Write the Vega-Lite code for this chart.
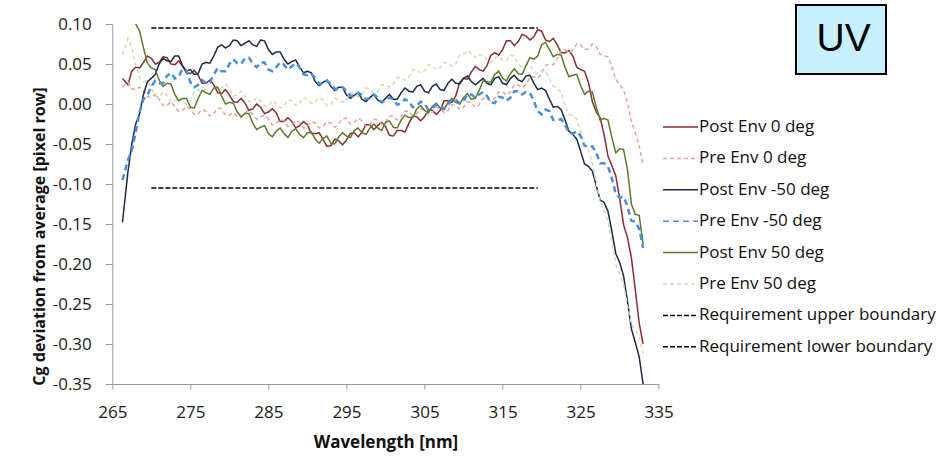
{
  "$schema": "https://vega.github.io/schema/vega-lite/v6.json",
  "width": 546.4,
  "height": 360,
  "autosize": {"type": "none"},
  "padding": {"left": 112.3, "top": 24, "right": 287.3, "bottom": 81},
  "background": "white",
  "config": {"view": {"stroke": null}, "font": "Open Sans"},
  "datasets": {
    "names": [
      {"key": "a", "series": "Post Env 0 deg"},
      {"key": "b", "series": "Pre Env  0 deg"},
      {"key": "c", "series": "Post Env -50 deg"},
      {"key": "d", "series": "Pre Env -50 deg"},
      {"key": "e", "series": "Post Env 50 deg"},
      {"key": "f", "series": "Pre Env 50 deg"}
    ],
    "spectra": [
      {"x": 266.3, "a": 0.032, "b": 0.021, "c": -0.148, "d": -0.095, "e": null, "f": 0.062},
      {"x": 267, "a": 0.024, "b": 0.027, "c": -0.085, "d": -0.07, "e": null, "f": 0.082},
      {"x": 267.5, "a": 0.041, "b": 0.019, "c": -0.05, "d": -0.058, "e": null, "f": 0.071},
      {"x": 268, "a": 0.046, "b": 0.018, "c": -0.025, "d": -0.035, "e": 0.1, "f": 0.048},
      {"x": 268.5, "a": 0.045, "b": 0.021, "c": -0.012, "d": -0.01, "e": 0.091, "f": 0.033},
      {"x": 269, "a": 0.052, "b": 0.017, "c": 0.012, "d": 0.006, "e": 0.07, "f": 0.028},
      {"x": 269.5, "a": 0.06, "b": 0.009, "c": 0.028, "d": 0.011, "e": 0.051, "f": 0.029},
      {"x": 270, "a": 0.057, "b": 0.008, "c": 0.032, "d": 0.022, "e": 0.045, "f": 0.02},
      {"x": 270.5, "a": 0.05, "b": 0.012, "c": 0.037, "d": 0.029, "e": 0.043, "f": 0.01},
      {"x": 271, "a": 0.052, "b": 0.006, "c": 0.05, "d": 0.026, "e": 0.03, "f": 0.008},
      {"x": 271.5, "a": 0.059, "b": -0.002, "c": 0.057, "d": 0.026, "e": 0.022, "f": 0.015},
      {"x": 272, "a": 0.058, "b": -0.002, "c": 0.054, "d": 0.035, "e": 0.026, "f": 0.011},
      {"x": 272.5, "a": 0.05, "b": 0.003, "c": 0.053, "d": 0.039, "e": 0.025, "f": 0.003},
      {"x": 273, "a": 0.049, "b": -0.003, "c": 0.06, "d": 0.032, "e": 0.012, "f": 0.003},
      {"x": 273.5, "a": 0.054, "b": -0.009, "c": 0.06, "d": 0.034, "e": 0.004, "f": 0.009},
      {"x": 274, "a": 0.047, "b": -0.008, "c": 0.048, "d": 0.044, "e": 0.007, "f": 0.004},
      {"x": 274.5, "a": 0.039, "b": -0.003, "c": 0.041, "d": 0.042, "e": 0.007, "f": 0.0},
      {"x": 275, "a": 0.038, "b": -0.006, "c": 0.043, "d": 0.027, "e": -0.004, "f": 0.004},
      {"x": 275.5, "a": 0.042, "b": -0.013, "c": 0.037, "d": 0.021, "e": -0.005, "f": 0.016},
      {"x": 276, "a": 0.036, "b": -0.012, "c": 0.038, "d": 0.024, "e": 0.007, "f": 0.018},
      {"x": 276.5, "a": 0.026, "b": -0.007, "c": 0.05, "d": 0.03, "e": 0.017, "f": 0.015},
      {"x": 277, "a": 0.026, "b": -0.009, "c": 0.052, "d": 0.026, "e": 0.014, "f": 0.02},
      {"x": 277.5, "a": 0.03, "b": -0.015, "c": 0.051, "d": 0.027, "e": 0.012, "f": 0.029},
      {"x": 278, "a": 0.024, "b": -0.012, "c": 0.06, "d": 0.037, "e": 0.02, "f": 0.028},
      {"x": 278.5, "a": 0.014, "b": -0.005, "c": 0.071, "d": 0.045, "e": 0.021, "f": 0.019},
      {"x": 279, "a": 0.013, "b": -0.006, "c": 0.074, "d": 0.041, "e": 0.01, "f": 0.02},
      {"x": 279.5, "a": 0.018, "b": -0.014, "c": 0.07, "d": 0.041, "e": 0.0, "f": 0.025},
      {"x": 280, "a": 0.011, "b": -0.014, "c": 0.073, "d": 0.05, "e": 0.002, "f": 0.019},
      {"x": 280.5, "a": 0.003, "b": -0.011, "c": 0.08, "d": 0.056, "e": 0.001, "f": 0.01},
      {"x": 281, "a": 0.002, "b": -0.015, "c": 0.079, "d": 0.051, "e": -0.01, "f": 0.011},
      {"x": 281.5, "a": 0.007, "b": -0.017, "c": 0.073, "d": 0.05, "e": -0.016, "f": 0.016},
      {"x": 282, "a": 0.001, "b": -0.011, "c": 0.076, "d": 0.057, "e": -0.012, "f": 0.01},
      {"x": 282.5, "a": -0.008, "b": -0.008, "c": 0.079, "d": 0.058, "e": -0.012, "f": 0.003},
      {"x": 283, "a": -0.006, "b": -0.013, "c": 0.074, "d": 0.05, "e": -0.024, "f": 0.003},
      {"x": 283.5, "a": 0.0, "b": -0.019, "c": 0.072, "d": 0.046, "e": -0.032, "f": 0.008},
      {"x": 284, "a": -0.004, "b": -0.016, "c": 0.08, "d": 0.052, "e": -0.029, "f": 0.004},
      {"x": 284.5, "a": -0.012, "b": -0.014, "c": 0.079, "d": 0.052, "e": -0.027, "f": -0.003},
      {"x": 285, "a": -0.01, "b": -0.019, "c": 0.068, "d": 0.043, "e": -0.037, "f": -0.002},
      {"x": 285.5, "a": -0.006, "b": -0.026, "c": 0.062, "d": 0.041, "e": -0.041, "f": 0.004},
      {"x": 286, "a": -0.011, "b": -0.024, "c": 0.065, "d": 0.046, "e": -0.034, "f": 0.001},
      {"x": 286.5, "a": -0.022, "b": -0.019, "c": 0.065, "d": 0.052, "e": -0.03, "f": -0.005},
      {"x": 287, "a": -0.022, "b": -0.021, "c": 0.056, "d": 0.049, "e": -0.037, "f": -0.002},
      {"x": 287.5, "a": -0.017, "b": -0.028, "c": 0.05, "d": 0.043, "e": -0.042, "f": 0.005},
      {"x": 288, "a": -0.022, "b": -0.026, "c": 0.053, "d": 0.047, "e": -0.034, "f": 0.004},
      {"x": 288.5, "a": -0.03, "b": -0.021, "c": 0.055, "d": 0.051, "e": -0.031, "f": -0.002},
      {"x": 289, "a": -0.027, "b": -0.023, "c": 0.046, "d": 0.046, "e": -0.038, "f": 0.001},
      {"x": 289.5, "a": -0.022, "b": -0.03, "c": 0.039, "d": 0.037, "e": -0.042, "f": 0.008},
      {"x": 290, "a": -0.026, "b": -0.028, "c": 0.041, "d": 0.036, "e": -0.036, "f": 0.006},
      {"x": 290.5, "a": -0.037, "b": -0.022, "c": 0.039, "d": 0.038, "e": -0.035, "f": 0.001},
      {"x": 291, "a": -0.037, "b": -0.024, "c": 0.028, "d": 0.032, "e": -0.044, "f": 0.003},
      {"x": 291.5, "a": -0.036, "b": -0.03, "c": 0.023, "d": 0.025, "e": -0.049, "f": 0.008},
      {"x": 292, "a": -0.044, "b": -0.028, "c": 0.027, "d": 0.026, "e": -0.043, "f": 0.005},
      {"x": 292.5, "a": -0.053, "b": -0.022, "c": 0.03, "d": 0.029, "e": -0.04, "f": -0.002},
      {"x": 293, "a": -0.052, "b": -0.024, "c": 0.022, "d": 0.025, "e": -0.049, "f": -0.001},
      {"x": 293.5, "a": -0.044, "b": -0.029, "c": 0.017, "d": 0.019, "e": -0.05, "f": 0.007},
      {"x": 294, "a": -0.046, "b": -0.025, "c": 0.021, "d": 0.018, "e": -0.041, "f": 0.006},
      {"x": 294.5, "a": -0.051, "b": -0.018, "c": 0.021, "d": 0.021, "e": -0.036, "f": 0.002},
      {"x": 295, "a": -0.045, "b": -0.018, "c": 0.011, "d": 0.017, "e": -0.04, "f": 0.006},
      {"x": 295.5, "a": -0.037, "b": -0.025, "c": 0.007, "d": 0.01, "e": -0.042, "f": 0.014},
      {"x": 296, "a": -0.036, "b": -0.023, "c": 0.011, "d": 0.011, "e": -0.033, "f": 0.013},
      {"x": 296.5, "a": -0.041, "b": -0.018, "c": 0.014, "d": 0.014, "e": -0.03, "f": 0.009},
      {"x": 297, "a": -0.035, "b": -0.021, "c": 0.006, "d": 0.011, "e": -0.036, "f": 0.012},
      {"x": 297.5, "a": -0.026, "b": -0.028, "c": 0.003, "d": 0.006, "e": -0.038, "f": 0.02},
      {"x": 298, "a": -0.026, "b": -0.026, "c": 0.008, "d": 0.007, "e": -0.03, "f": 0.019},
      {"x": 298.5, "a": -0.032, "b": -0.019, "c": 0.012, "d": 0.012, "e": -0.025, "f": 0.014},
      {"x": 299, "a": -0.027, "b": -0.02, "c": 0.005, "d": 0.008, "e": -0.03, "f": 0.016},
      {"x": 299.5, "a": -0.023, "b": -0.025, "c": 0.002, "d": 0.002, "e": -0.033, "f": 0.024},
      {"x": 300, "a": -0.028, "b": -0.022, "c": 0.007, "d": 0.004, "e": -0.023, "f": 0.024},
      {"x": 300.5, "a": -0.039, "b": -0.015, "c": 0.012, "d": 0.008, "e": -0.021, "f": 0.021},
      {"x": 301, "a": -0.04, "b": -0.015, "c": 0.006, "d": 0.006, "e": -0.029, "f": 0.025},
      {"x": 301.5, "a": -0.033, "b": -0.02, "c": 0.006, "d": -0.001, "e": -0.03, "f": 0.033},
      {"x": 302, "a": -0.033, "b": -0.016, "c": 0.014, "d": 0.001, "e": -0.02, "f": 0.033},
      {"x": 302.5, "a": -0.035, "b": -0.009, "c": 0.02, "d": 0.006, "e": -0.014, "f": 0.03},
      {"x": 303, "a": -0.024, "b": -0.009, "c": 0.016, "d": 0.003, "e": -0.017, "f": 0.034},
      {"x": 303.5, "a": -0.015, "b": -0.015, "c": 0.015, "d": -0.004, "e": -0.017, "f": 0.043},
      {"x": 304, "a": -0.016, "b": -0.012, "c": 0.022, "d": -0.002, "e": -0.006, "f": 0.043},
      {"x": 304.5, "a": -0.021, "b": -0.006, "c": 0.024, "d": 0.003, "e": -0.002, "f": 0.039},
      {"x": 305, "a": -0.016, "b": -0.007, "c": 0.016, "d": 0.0, "e": -0.008, "f": 0.042},
      {"x": 305.5, "a": -0.007, "b": -0.013, "c": 0.014, "d": -0.007, "e": -0.011, "f": 0.049},
      {"x": 306, "a": -0.008, "b": -0.01, "c": 0.022, "d": -0.005, "e": -0.003, "f": 0.048},
      {"x": 306.5, "a": -0.013, "b": -0.004, "c": 0.025, "d": -0.001, "e": 0.001, "f": 0.043},
      {"x": 307, "a": -0.008, "b": -0.005, "c": 0.018, "d": -0.002, "e": -0.005, "f": 0.045},
      {"x": 307.5, "a": 0.004, "b": -0.011, "c": 0.017, "d": -0.006, "e": -0.007, "f": 0.052},
      {"x": 308, "a": 0.004, "b": -0.008, "c": 0.026, "d": -0.002, "e": 0.002, "f": 0.051},
      {"x": 308.5, "a": 0.002, "b": -0.001, "c": 0.031, "d": 0.006, "e": 0.007, "f": 0.047},
      {"x": 309, "a": 0.01, "b": -0.002, "c": 0.026, "d": 0.005, "e": 0.002, "f": 0.05},
      {"x": 309.5, "a": 0.027, "b": -0.007, "c": 0.025, "d": 0.001, "e": 0.0, "f": 0.061},
      {"x": 310, "a": 0.032, "b": -0.004, "c": 0.032, "d": 0.004, "e": 0.008, "f": 0.062},
      {"x": 310.5, "a": 0.031, "b": 0.003, "c": 0.035, "d": 0.012, "e": 0.013, "f": 0.067},
      {"x": 311, "a": 0.04, "b": 0.002, "c": 0.028, "d": 0.012, "e": 0.006, "f": 0.063},
      {"x": 311.5, "a": 0.047, "b": -0.004, "c": 0.024, "d": 0.008, "e": 0.007, "f": 0.058},
      {"x": 312, "a": 0.043, "b": -0.001, "c": 0.028, "d": 0.012, "e": 0.017, "f": 0.061},
      {"x": 312.5, "a": 0.041, "b": 0.007, "c": 0.032, "d": 0.015, "e": 0.029, "f": 0.062},
      {"x": 313, "a": 0.048, "b": 0.007, "c": 0.026, "d": 0.01, "e": 0.028, "f": 0.055},
      {"x": 313.5, "a": 0.061, "b": 0.003, "c": 0.024, "d": 0.002, "e": 0.027, "f": 0.052},
      {"x": 314, "a": 0.064, "b": 0.007, "c": 0.032, "d": 0.001, "e": 0.037, "f": 0.057},
      {"x": 314.5, "a": 0.061, "b": 0.015, "c": 0.034, "d": 0.009, "e": 0.041, "f": 0.06},
      {"x": 315, "a": 0.068, "b": 0.015, "c": 0.026, "d": 0.008, "e": 0.032, "f": 0.055},
      {"x": 315.5, "a": 0.079, "b": 0.011, "c": 0.024, "d": 0.004, "e": 0.029, "f": 0.054},
      {"x": 316, "a": 0.079, "b": 0.015, "c": 0.032, "d": 0.008, "e": 0.038, "f": 0.061},
      {"x": 316.5, "a": 0.073, "b": 0.024, "c": 0.036, "d": 0.016, "e": 0.044, "f": 0.06},
      {"x": 317, "a": 0.078, "b": 0.024, "c": 0.03, "d": 0.016, "e": 0.038, "f": 0.05},
      {"x": 317.5, "a": 0.087, "b": 0.02, "c": 0.028, "d": 0.012, "e": 0.037, "f": 0.046},
      {"x": 318, "a": 0.085, "b": 0.024, "c": 0.035, "d": 0.015, "e": 0.048, "f": 0.049},
      {"x": 318.5, "a": 0.08, "b": 0.033, "c": 0.036, "d": 0.014, "e": 0.058, "f": 0.049},
      {"x": 319, "a": 0.084, "b": 0.034, "c": 0.026, "d": 0.004, "e": 0.056, "f": 0.041},
      {"x": 319.5, "a": 0.093, "b": 0.032, "c": 0.018, "d": -0.009, "e": 0.06, "f": 0.038},
      {"x": 320, "a": 0.091, "b": 0.038, "c": 0.02, "d": -0.013, "e": 0.074, "f": 0.042},
      {"x": 320.5, "a": 0.08, "b": 0.048, "c": 0.017, "d": -0.007, "e": 0.077, "f": 0.041},
      {"x": 321, "a": 0.078, "b": 0.05, "c": 0.006, "d": -0.009, "e": 0.068, "f": 0.031},
      {"x": 321.5, "a": 0.082, "b": 0.049, "c": -0.004, "d": -0.02, "e": 0.059, "f": 0.022},
      {"x": 322, "a": 0.074, "b": 0.056, "c": -0.003, "d": -0.02, "e": 0.062, "f": 0.02},
      {"x": 322.5, "a": 0.064, "b": 0.066, "c": -0.007, "d": -0.019, "e": 0.061, "f": 0.014},
      {"x": 323, "a": 0.064, "b": 0.068, "c": -0.02, "d": -0.026, "e": 0.046, "f": -0.002},
      {"x": 323.5, "a": 0.067, "b": 0.064, "c": -0.034, "d": -0.036, "e": 0.034, "f": -0.013},
      {"x": 324, "a": 0.06, "b": 0.068, "c": -0.038, "d": -0.037, "e": 0.036, "f": -0.014},
      {"x": 324.5, "a": 0.046, "b": 0.075, "c": -0.044, "d": -0.034, "e": 0.037, "f": -0.019},
      {"x": 325, "a": 0.043, "b": 0.074, "c": -0.059, "d": -0.04, "e": 0.023, "f": -0.034},
      {"x": 325.5, "a": 0.041, "b": 0.068, "c": -0.075, "d": -0.052, "e": 0.012, "f": -0.052},
      {"x": 326, "a": 0.027, "b": 0.069, "c": -0.078, "d": -0.054, "e": 0.016, "f": -0.058},
      {"x": 326.5, "a": 0.003, "b": 0.075, "c": -0.084, "d": -0.053, "e": 0.015, "f": -0.073},
      {"x": 327, "a": -0.01, "b": 0.072, "c": -0.102, "d": -0.061, "e": -0.004, "f": -0.099},
      {"x": 327.5, "a": -0.017, "b": 0.062, "c": -0.12, "d": -0.074, "e": -0.02, "f": -0.122},
      {"x": 328, "a": -0.038, "b": 0.06, "c": -0.123, "d": -0.074, "e": -0.018, "f": -0.133},
      {"x": 328.5, "a": -0.065, "b": 0.059, "c": -0.134, "d": -0.078, "e": -0.02, "f": -0.147},
      {"x": 329, "a": -0.077, "b": 0.047, "c": -0.159, "d": -0.093, "e": -0.042, "f": -0.172},
      {"x": 329.5, "a": -0.09, "b": 0.031, "c": -0.187, "d": -0.112, "e": -0.061, "f": -0.2},
      {"x": 330, "a": -0.118, "b": 0.024, "c": -0.198, "d": -0.117, "e": -0.056, "f": -0.213},
      {"x": 330.5, "a": -0.151, "b": 0.018, "c": -0.215, "d": -0.116, "e": -0.057, "f": -0.226},
      {"x": 331, "a": -0.167, "b": 0.002, "c": -0.247, "d": -0.128, "e": -0.082, "f": -0.252},
      {"x": 331.5, "a": -0.192, "b": -0.022, "c": -0.281, "d": -0.146, "e": -0.125, "f": -0.275},
      {"x": 332, "a": -0.232, "b": -0.036, "c": -0.298, "d": -0.147, "e": -0.138, "f": -0.283},
      {"x": 332.5, "a": -0.274, "b": -0.052, "c": -0.316, "d": -0.156, "e": -0.139, "f": -0.291},
      {"x": 333, "a": -0.3, "b": -0.077, "c": -0.35, "d": -0.18, "e": -0.175, "f": -0.312}
    ],
    "limits": [
      {"series": "Requirement upper boundary", "band": "UV", "x": 270, "y": 0.095},
      {"series": "Requirement upper boundary", "band": "UV", "x": 319.5, "y": 0.095},
      {"series": "Requirement lower boundary", "band": "UV", "x": 270, "y": -0.105},
      {"series": "Requirement lower boundary", "band": "UV", "x": 319.5, "y": -0.105}
    ]
  },
  "encoding": {
    "x": {
      "field": "x", "type": "quantitative",
      "scale": {"domain": [265, 335], "nice": false, "zero": false},
      "axis": {
        "title": "Wavelength [nm]", "values": [265, 275, 285, 295, 305, 315, 325, 335],
        "format": "d", "grid": false, "labelFlush": false,
        "labelFont": "Open Sans", "labelFontSize": 17, "labelColor": "#1a1a1a",
        "labelBaseline": "alphabetic", "labelPadding": 28,
        "tickSize": 5, "tickColor": "#9a9a9a", "domainColor": "#9a9a9a",
        "titleFont": "Open Sans", "titleFontSize": 17, "titleFontWeight": "bold", "titleColor": "#111111",
        "titleBaseline": "alphabetic", "titleY": 63
      }
    },
    "y": {
      "field": "y", "type": "quantitative",
      "scale": {"domain": [-0.35, 0.1], "nice": false, "zero": false},
      "axis": {
        "title": "Cg deviation from average [pixel row]",
        "values": [-0.35, -0.3, -0.25, -0.2, -0.15, -0.1, -0.05, 0, 0.05, 0.1],
        "labelExpr": "datum.value < 0 ? '-' + format(-datum.value, '.2f') : format(datum.value, '.2f')",
        "grid": false, "labelFlush": false,
        "labelFont": "Open Sans", "labelFontSize": 17, "labelColor": "#1a1a1a",
        "labelPadding": 14, "tickSize": 7, "tickColor": "#9a9a9a", "domainColor": "#9a9a9a",
        "titleFont": "Open Sans", "titleFontSize": 16, "titleFontWeight": "bold", "titleColor": "#111111",
        "titleAngle": -90, "titleBaseline": "middle", "titleX": -73, "titleY": 212
      }
    },
    "color": {
      "field": "series", "type": "nominal",
      "scale": {
        "domain": ["Post Env 0 deg", "Pre Env  0 deg", "Post Env -50 deg", "Pre Env -50 deg", "Post Env 50 deg", "Pre Env 50 deg", "Requirement upper boundary", "Requirement lower boundary"],
        "range": ["#8b2c30", "#e8a0a0", "#1a2a48", "#4a8fde", "#5b7b2c", "#cddfae", "#000000", "#000000"]
      },
      "legend": {
        "orient": "none", "legendX": 549.7, "legendY": 84.5, "title": null, "padding": 0,
        "symbolType": "stroke", "symbolSize": 1225, "symbolStrokeWidth": 1.5,
        "labelFont": "Open Sans", "labelFontSize": 17, "labelColor": "#111111", "labelOffset": 0,
        "rowPadding": 4.4, "labelLimit": 300
      }
    },
    "strokeDash": {
      "field": "series", "type": "nominal",
      "scale": {
        "domain": ["Post Env 0 deg", "Pre Env  0 deg", "Post Env -50 deg", "Pre Env -50 deg", "Post Env 50 deg", "Pre Env 50 deg", "Requirement upper boundary", "Requirement lower boundary"],
        "range": [[1, 0], [4, 3], [1, 0], [6, 4], [1, 0], [4, 3], [5, 2], [5, 2]]
      },
      "legend": {
        "orient": "none", "legendX": 549.7, "legendY": 84.5, "title": null, "padding": 0,
        "symbolType": "stroke", "symbolSize": 1225, "symbolStrokeWidth": 1.5,
        "labelFont": "Open Sans", "labelFontSize": 17, "labelColor": "#111111", "labelOffset": 0,
        "rowPadding": 4.4, "labelLimit": 300
      }
    }
  },
  "layer": [
    {
      "data": {"name": "spectra"},
      "transform": [
        {"fold": ["a", "b", "c", "e", "f"], "as": ["key", "y"]},
        {"lookup": "key", "from": {"data": {"name": "names"}, "key": "key", "fields": ["series"]}}
      ],
      "mark": {"type": "line", "strokeWidth": 1.5, "invalid": "filter", "clip": true}
    },
    {
      "data": {"name": "spectra"},
      "transform": [
        {"fold": ["d"], "as": ["key", "y"]},
        {"lookup": "key", "from": {"data": {"name": "names"}, "key": "key", "fields": ["series"]}}
      ],
      "mark": {"type": "line", "strokeWidth": 2.5, "invalid": "filter", "clip": true}
    },
    {
      "data": {"name": "limits"},
      "mark": {"type": "line", "strokeWidth": 1.5, "clip": true},
      "encoding": {
        "opacity": {
          "field": "band", "type": "ordinal",
          "scale": {"range": [1, 1]},
          "legend": {
            "orient": "none", "legendX": 683.7, "legendY": -19, "title": null,
            "symbolOpacity": 0, "symbolSize": 0, "symbolType": "circle",
            "symbolStrokeColor": "transparent", "symbolFillColor": "transparent", "symbolStrokeWidth": 0,
            "labelFont": "Liberation Sans", "labelFontSize": 39, "labelColor": "#000000",
            "labelOffset": -33, "padding": 14.5, "fillColor": "#c6f0ff", "strokeColor": "#000000",
            "labelExpr": "'UV\u2009'",
            "encode": {"legend": {"update": {"strokeWidth": {"value": 2}}}}
          }
        }
      }
    }
  ]
}
